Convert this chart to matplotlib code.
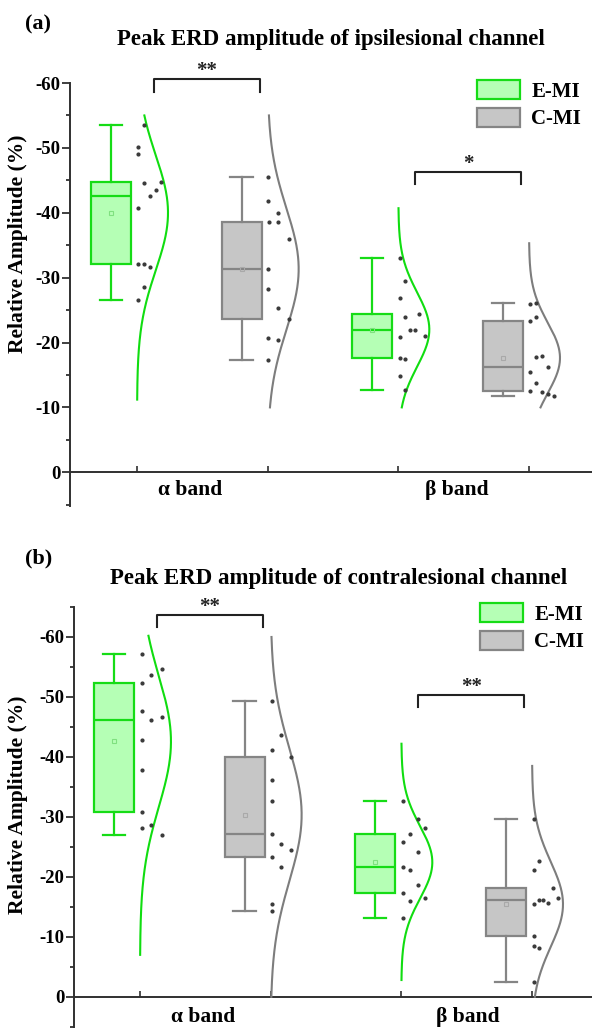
import numpy as np
import matplotlib
matplotlib.use("Agg")
import matplotlib.pyplot as plt
from matplotlib.patches import Patch
from matplotlib.ticker import MultipleLocator

plt.rcParams['font.family'] = ['Liberation Serif', 'DejaVu Serif']
plt.rcParams['font.weight'] = 'bold'
plt.rcParams['axes.unicode_minus'] = False

# ---------------- data ----------------
groups = ['E-MI', 'C-MI']
bands = ['\u03b1 band', '\u03b2 band']
titles = ['Peak ERD amplitude of ipsilesional channel',
          'Peak ERD amplitude of contralesional channel']
panel_tags = ['(a)', '(b)']
y_ticks = [0, -10, -20, -30, -40, -50, -60]

# panel (a): ipsilesional
a_emi_alpha = [-53.5, -50.2, -49.0, -44.6, -44.8, -43.5, -42.6, -40.8, -32.1, -32.1, -31.7, -28.6, -26.5]
a_emi_alpha_jit = [1.2, 0.2, 0.2, 1.2, 4.0, 3.1, 2.1, 0.2, 0.2, 1.2, 2.1, 1.1, 0.2]
a_cmi_alpha = [-45.5, -41.8, -40.0, -38.6, -38.6, -35.9, -31.3, -28.2, -25.3, -23.7, -20.7, -20.4, -17.3]
a_cmi_alpha_jit = [0.1, 0.1, 1.7, 0.3, 1.7, 3.5, 0.1, 0.1, 1.7, 3.5, 0.1, 1.7, 0.1]
a_emi_beta = [-33.1, -29.5, -26.9, -24.4, -23.9, -21.9, -21.9, -21.0, -20.8, -17.6, -17.4, -14.9, -12.7]
a_emi_beta_jit = [0.2, 1.1, 0.2, 3.5, 1.1, 1.9, 2.7, 4.4, 0.2, 0.2, 1.1, 0.2, 1.1]
a_cmi_beta = [-26.1, -25.9, -24.0, -23.3, -17.9, -17.7, -16.3, -15.5, -13.8, -12.5, -12.4, -12.0, -11.8]
a_cmi_beta_jit = [1.2, 0.2, 1.2, 0.2, 2.2, 1.2, 3.2, 0.2, 1.2, 0.2, 2.2, 3.2, 4.2]
a_curve_ranges = [(-55.0, -11.2), (-55.0, -10.0), (-40.7, -10.0), (-35.3, -10.0)]

# panel (b): contralesional
b_emi_alpha = [-57.2, -54.6, -53.6, -52.4, -47.7, -46.7, -46.1, -42.8, -37.8, -30.9, -28.7, -28.2, -26.9]
b_emi_alpha_jit = [0.3, 3.6, 1.9, 0.3, 0.3, 3.6, 1.9, 0.3, 0.3, 0.3, 1.9, 0.3, 3.6]
b_cmi_alpha = [-49.3, -43.7, -41.1, -40.0, -36.1, -32.7, -27.1, -25.4, -24.5, -23.3, -21.7, -15.5, -14.3]
b_cmi_alpha_jit = [0.2, 1.7, 0.2, 3.4, 0.2, 0.2, 0.2, 1.7, 3.4, 0.2, 1.7, 0.2, 0.2]
b_emi_beta = [-32.7, -29.6, -28.1, -27.2, -25.8, -24.2, -21.6, -21.1, -18.7, -17.3, -16.4, -15.9, -13.1]
b_emi_beta_jit = [0.3, 2.7, 3.9, 1.5, 0.3, 2.7, 0.3, 1.5, 2.7, 0.3, 3.9, 1.5, 0.3]
b_cmi_beta = [-29.7, -22.7, -21.2, -18.2, -16.5, -16.1, -16.1, -15.6, -15.4, -10.2, -8.4, -8.1, -2.4]
b_cmi_beta_jit = [0.3, 1.1, 0.3, 3.5, 4.3, 1.1, 1.9, 2.7, 0.3, 0.3, 0.3, 1.1, 0.3]
b_curve_ranges = [(-60.2, -7.0), (-60.0, 0.0), (-42.2, -2.8), (-38.5, 0.0)]

# significance: (pair of group indices, label)
a_sig = [((0, 1), '**'), ((2, 3), '*')]
b_sig = [((0, 1), '**'), ((2, 3), '**')]

# ---------------- style ----------------
face = {'E-MI': '#b5ffb5', 'C-MI': '#c6c6c6'}
edge = {'E-MI': '#16dc16', 'C-MI': '#858585'}
meanc = {'E-MI': '#7fe07f', 'C-MI': '#a9a9a9'}
curvec = {'E-MI': '#10dd10', 'C-MI': '#7d7d7d'}
dotc = '#3a3a3a'
axc = '#303030'

W, H = 592, 1028
fig = plt.figure(figsize=(W / 100, H / 100), dpi=100)

def px_axes(l, r, t, b):
    return fig.add_axes([l / W, 1 - b / H, (r - l) / W, (b - t) / H])

panels = [
    dict(ax=px_axes(70, 592, 83, 506), xlim=(0.487, 4.482), ylim=(5.2, -60),
         data=[a_emi_alpha, a_cmi_alpha, a_emi_beta, a_cmi_beta],
         jit=[a_emi_alpha_jit, a_cmi_alpha_jit, a_emi_beta_jit, a_cmi_beta_jit],
         cr=a_curve_ranges, sig=a_sig,
         sig_y=[(-60.6, -58.6), (-46.3, -44.4)], star_dy=0.35,
         band_x=[1.41, 3.45], band_y=2.7, ylab=(-0.080, 0.619),
         tag_xy=(25, 29), title_xy=(331, 45), leg_xy=(477, 80)),
    dict(ax=px_axes(74, 592, 607, 1028), xlim=(0.495, 4.459), ylim=(5.2, -65),
         data=[b_emi_alpha, b_cmi_alpha, b_emi_beta, b_cmi_beta],
         jit=[b_emi_alpha_jit, b_cmi_alpha_jit, b_emi_beta_jit, b_cmi_beta_jit],
         cr=b_curve_ranges, sig=b_sig,
         sig_y=[(-63.7, -61.7), (-50.3, -48.3)], star_dy=0.3,
         band_x=[1.48, 3.51], band_y=3.3, ylab=(-0.089, 0.53),
         tag_xy=(25, 563), title_xy=(339, 584), leg_xy=(480, 603)),
]

box_off = -0.20
box_w = 0.306
jit_unit = 6 / 130.67
curve_w = 0.237

for k, P in enumerate(panels):
    ax = P['ax']
    positions = np.arange(1, 5)
    gnames = [groups[i % 2] for i in range(4)]
    for i, (vals, pos, g) in enumerate(zip(P['data'], positions, gnames)):
        vals = np.asarray(vals)
        ax.boxplot([vals], positions=[pos + box_off], widths=box_w,
                   whis=(0, 100), showfliers=False, showmeans=True,
                   patch_artist=True, capwidths=0.17, manage_ticks=False,
                   boxprops=dict(facecolor=face[g], edgecolor=edge[g], linewidth=1.6),
                   whiskerprops=dict(color=edge[g], linewidth=1.6),
                   capprops=dict(color=edge[g], linewidth=1.6),
                   medianprops=dict(color=edge[g], linewidth=1.6),
                   meanprops=dict(marker='s', markersize=3.2, markerfacecolor='none',
                                  markeredgecolor=meanc[g], markeredgewidth=0.8))
        # scatter
        jx = pos + np.asarray(P['jit'][i]) * jit_unit
        ax.plot(jx, vals, 'o', color=dotc, markersize=2.0, linestyle='none', zorder=4)
        # normal distribution curve
        lo, hi = P['cr'][i]
        yy = np.linspace(lo, hi, 300)
        m, s = vals.mean(), vals.std(ddof=1)
        dens = np.exp(-0.5 * ((yy - m) / s) ** 2)
        ax.plot(pos + curve_w * dens, yy, color=curvec[g], linewidth=1.5, zorder=3,
                clip_on=False)

    ax.set_xlim(*P['xlim'])
    ax.set_ylim(*P['ylim'])
    ax.set_yticks(y_ticks)
    ax.set_yticklabels([str(t) for t in y_ticks])
    ax.yaxis.set_minor_locator(MultipleLocator(5))
    ax.set_xticks(positions)
    ax.set_xticklabels([])
    ax.spines['top'].set_visible(False)
    ax.spines['right'].set_visible(False)
    ax.spines['bottom'].set_position(('data', 0))
    for sp in ('left', 'bottom'):
        ax.spines[sp].set_color(axc)
        ax.spines[sp].set_linewidth(1.4)
    ax.tick_params(axis='y', which='major', direction='out', length=6, width=1.3,
                   color=axc, labelsize=13.5, pad=1)
    ax.tick_params(axis='y', which='minor', direction='out', length=3, width=1.3, color=axc)
    ax.tick_params(axis='x', which='major', direction='in', length=4.5, width=1.2, color=axc)
    ax.tick_params(axis='x', which='minor', bottom=False)
    for lab in ax.get_yticklabels():
        lab.set_fontweight('bold')
    ax.set_ylabel('Relative Amplitude (%)', fontsize=15.5, fontweight='bold')
    ax.yaxis.set_label_coords(*P['ylab'])

    for bx, bl in zip(P['band_x'], bands):
        ax.text(bx, P['band_y'], bl, ha='center', va='center', fontsize=15.5,
                fontweight='bold')

    # significance brackets
    for (pair, lab), (yl, yleg) in zip(P['sig'], P['sig_y']):
        x0 = positions[pair[0]] + 0.13
        x1 = positions[pair[1]] - 0.06
        ax.plot([x0, x0, x1, x1], [yleg, yl, yl, yleg], color='#222222',
                linewidth=1.5, clip_on=False)
        ax.text((x0 + x1) / 2, yl + P['star_dy'], lab, ha='center', va='bottom',
                fontsize=15, fontweight='bold', color='#222222')

    # legend
    handles = [Patch(facecolor=face[g], edgecolor=edge[g], linewidth=1.6, label=g)
               for g in groups]
    lx, ly = P['leg_xy']
    ax.legend(handles=handles, loc='upper left',
              bbox_to_anchor=(lx / W, 1 - ly / H), bbox_transform=fig.transFigure,
              frameon=False, handlelength=2.05, handleheight=1.05,
              handletextpad=0.55, labelspacing=0.28, borderpad=0, borderaxespad=0,
              prop=dict(weight='bold', size=15))

    tx, ty = P['tag_xy']
    fig.text(tx / W, 1 - ty / H, panel_tags[k], ha='left', va='baseline',
             fontsize=16, fontweight='bold')
    tx, ty = P['title_xy']
    fig.text(tx / W, 1 - ty / H, titles[k], ha='center', va='baseline',
             fontsize=16.5, fontweight='bold')

fig.savefig('out.png', dpi=100)
